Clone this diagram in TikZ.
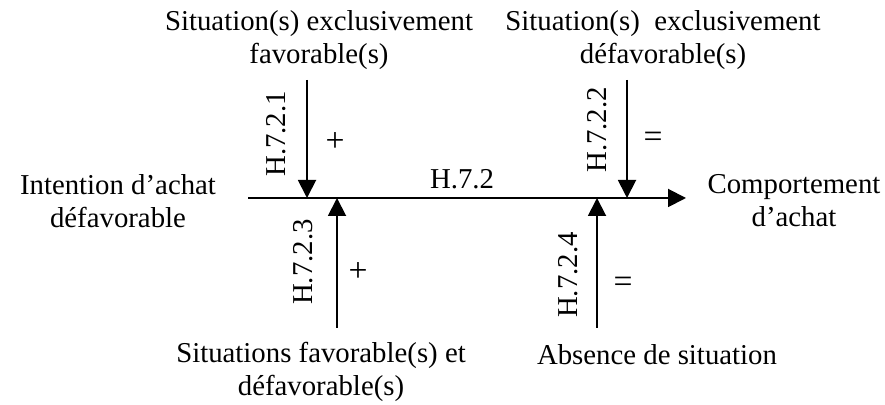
\documentclass[tikz,border=0pt]{standalone}
\usepackage{fontspec}
\setmainfont{Liberation Serif}
\usetikzlibrary{arrows.meta}

\begin{document}
\begin{tikzpicture}[x=0.4167pt, y=-0.4167pt, line width=0.8pt,
    >={Triangle[length=7.5pt, width=7.5pt]},
    txt/.style={align=center, inner sep=0pt, font=\fontsize{12}{13.8}\selectfont},
    hyp/.style={rotate=90, inner sep=0pt, font=\fontsize{12}{13.8}\selectfont},
    sgn/.style={inner sep=0pt, font=\fontsize{14}{16}\selectfont}]
    \useasboundingbox (0,0) rectangle (885,405);
    % Variables
    \node[txt] (intention) at (118,201) {Intention d’achat\\défavorable};
    \node[txt] (comport) at (794,201) {Comportement\\d’achat};
    % Situations
    \node[txt] (favo) at (319,40) {Situation(s) exclusivement\\favorable(s)};
    \node[txt] (defavo) at (663,40) {Situation(s)\ \ exclusivement\\défavorable(s)};
    \node[txt] (mixte) at (321,372) {Situations favorable(s) et\\défavorable(s)};
    \node[txt] (absence) at (657,355) {Absence de situation};
    % Main relation
    \coordinate (from) at (248,198);
    \coordinate (to) at (686,198);
    \draw[->] (from) -- (to);
    \node[txt] (h72) at (462,179) {H.7.2};
    % Moderators
    \coordinate (s1) at (307,80);  \coordinate (m1) at (307,198);
    \coordinate (s2) at (627,80);  \coordinate (m2) at (627,198);
    \coordinate (s3) at (337,328); \coordinate (m3) at (337,198);
    \coordinate (s4) at (597,328); \coordinate (m4) at (597,198);
    \draw[->] (s1) -- (m1);
    \draw[->] (s2) -- (m2);
    \draw[->] (s3) -- (m3);
    \draw[->] (s4) -- (m4);
    \node[hyp] (h721) at (276,134) {H.7.2.1};
    \node[hyp] (h722) at (597,130) {H.7.2.2};
    \node[hyp] (h723) at (303,262) {H.7.2.3};
    \node[hyp] (h724) at (568,275) {H.7.2.4};
    \node[sgn] (p1) at (335,142) {+};
    \node[sgn] (e2) at (653,140) {=};
    \node[sgn] (p3) at (358,272) {+};
    \node[sgn] (e4) at (623,285) {=};
\end{tikzpicture}
\end{document}
